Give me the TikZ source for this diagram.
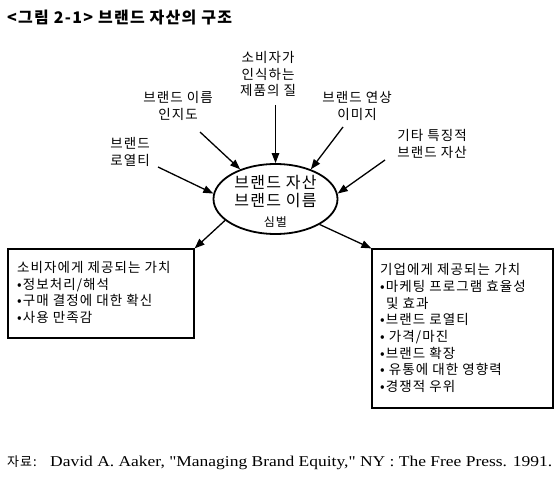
\documentclass[tikz,border=0pt]{standalone}
\usepackage{fontspec}
\usepackage{graphicx}
\setmainfont{Noto Sans CJK KR}[LetterSpace=8]
\newfontfamily\en{Liberation Serif}
\usetikzlibrary{arrows.meta,shapes.geometric}
\begin{document}
\begin{tikzpicture}[x=1pt,y=-1pt,
  lbl/.style={align=center,font=\fontsize{13.5}{17.5}\selectfont,inner sep=0pt},
  arr/.style={line width=1.3pt,-{Triangle[length=10pt,width=7.5pt]}},
  vbox/.style={draw,line width=1.2pt,rectangle,inner sep=0pt},
  btxt/.style={align=left,anchor=north west,inner sep=0pt,font=\fontsize{13.5}{16.5}\selectfont},
  etxt/.style={anchor=base,inner sep=0pt}
]
\useasboundingbox[fill=white] (0,0) rectangle (556,481);

% title
\node[anchor=base west,inner sep=0pt,font=\bfseries\fontsize{16}{18}\selectfont] (title) at (7,24) {<그림 2-1> 브랜드 자산의 구조};

% center ellipse
\node[draw,ellipse,line width=1.8pt,minimum width=124pt,minimum height=70pt,inner sep=0pt] (ell) at (275.5,199) {};
\node[etxt,font=\fontsize{16}{18}\selectfont] (ell1) at (275.5,188.5) {브랜드 자산};
\node[etxt,font=\fontsize{16}{18}\selectfont] (ell2) at (275.5,206.5) {브랜드 이름};
\node[etxt,font=\fontsize{12}{14}\selectfont] (ell3) at (275.5,226) {심벌};

% surrounding labels
\node[lbl,font=\fontsize{13.5}{16.5}\selectfont] (qual) at (268,74) {소비자가\\인식하는\\제품의 질};
\node[lbl] (aware) at (178,106) {브랜드 이름\\인지도};
\node[lbl] (assoc) at (357,106) {브랜드 연상\\이미지};
\node[lbl] (loyal) at (130,152) {브랜드\\로열티};
\node[lbl] (other) at (432,144) {기타 특징적\\브랜드 자산};

% arrow tails
\coordinate (tq) at (275.5,105);
\coordinate (ta) at (200,132);
\coordinate (ts) at (343,127);
\coordinate (tl) at (158,167);
\coordinate (to) at (385,160);

\draw[arr] (tq) -- (ell.north);
\draw[arr] (ta) -- (ell.140);
\draw[arr] (ts) -- (ell.40);
\draw[arr] (tl) -- (ell.175);
\draw[arr] (to) -- (ell.5);

% value boxes
\node[vbox,minimum width=186pt,minimum height=89pt] (lbox) at (101,293.5) {};
\node[vbox,minimum width=181pt,minimum height=159pt] (rbox) at (462.5,328.5) {};

\node[btxt] (ltxt) at (17,261.3) {소비자에게 제공되는 가치\\•정보처리/해석\\•구매 결정에 대한 확신\\•사용 만족감};
\node[btxt,font=\fontsize{13.5}{16.7}\selectfont] (rtxt) at (380,263.3) {기업에게 제공되는 가치\\•마케팅 프로그램 효율성\\\hspace*{6pt}및 효과\\•브랜드 로열티\\• 가격/마진\\•브랜드 확장\\• 유통에 대한 영향력\\•경쟁적 우위};

\draw[arr] (ell.203) -- (lbox.north east);
\draw[arr] (ell.-30) -- (rbox.north west);

% source
\node[anchor=base west,inner sep=0pt,font=\fontsize{13}{15}\selectfont] (src) at (7,466) {자료:};
\node[anchor=base west,inner sep=0pt] (srct) at (50,466) {\resizebox{502pt}{\height}{\en\fontsize{15}{17}\selectfont David A. Aaker, "Managing Brand Equity," NY : The Free Press. 1991.}};
\end{tikzpicture}
\end{document}
